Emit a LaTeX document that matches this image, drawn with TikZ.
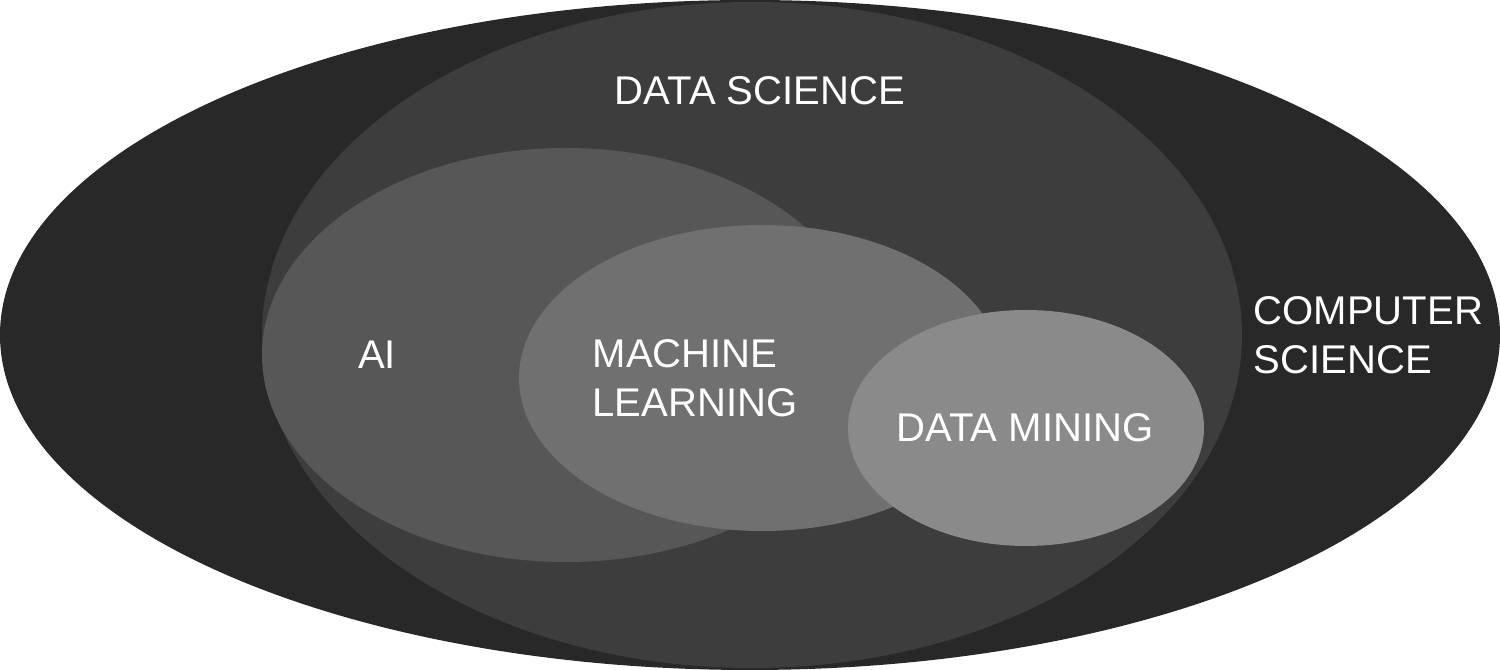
\documentclass[tikz,border=0pt]{standalone}
\usepackage{fontspec}
\setmainfont{Liberation Sans}
\usepackage{tikz}
\usetikzlibrary{calc}

\definecolor{csgray}{HTML}{282828}
\definecolor{dsgray}{HTML}{3D3D3D}
\definecolor{aigray}{HTML}{575757}
\definecolor{mlgray}{HTML}{707070}
\definecolor{dmgray}{HTML}{8A8A8A}

\begin{document}
\begin{tikzpicture}
      \tikzset{area label/.style={text=white,
          font=\fontsize{11.4}{13.9}\selectfont,
          inner sep=0pt,
          align=left}
      }
      \useasboundingbox (0,0) rectangle (15,6.7);
      \fill [csgray] (7.5,3.35) ellipse [x radius=7.5, y radius=3.35];
      \fill [dsgray] (7.52,3.35) ellipse [x radius=4.9, y radius=3.33];
      \fill [aigray] (5.66,3.15) ellipse [x radius=3.04, y radius=2.07];
      \fill [mlgray] (7.62,2.92) ellipse [x radius=2.43, y radius=1.53];
      \fill [dmgray] (10.26,2.42) ellipse [x radius=1.78, y radius=1.18];
      \node [area label] (DS) at (7.6,5.79) {DATA SCIENCE};
      \node [area label] (AI) at (3.77,3.15) {AI};
      \node [area label, anchor=west] (ML) at (5.92,2.92) {MACHINE\\LEARNING};
      \node [area label] (DM) at (10.25,2.42) {DATA MINING};
      \node [area label, anchor=west] (CS) at (12.53,3.35) {COMPUTER\\SCIENCE};
    \end{tikzpicture}
\end{document}
